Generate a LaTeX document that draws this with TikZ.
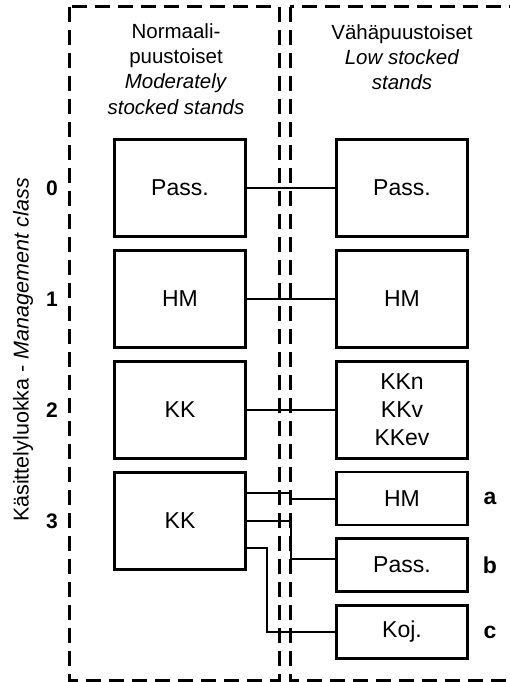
\documentclass[tikz,border=0pt]{standalone}
\usepackage{fontspec}
\setmainfont{Liberation Sans}
\usetikzlibrary{calc}

\begin{document}
\begin{tikzpicture}[x=1pt,y=-1pt,
  group/.style={line width=3pt, dash pattern=on 15pt off 8pt},
  stepbox/.style={draw, line width=2.8pt, minimum width=131pt, inner sep=0pt,
    font=\fontsize{23}{28}\selectfont, align=center},
  tallbox/.style={stepbox, minimum height=97pt},
  lowbox/.style={stepbox, minimum height=53pt},
  link/.style={line width=2pt},
  head/.style={font=\fontsize{20.5}{25.3}\selectfont, align=center},
  rowno/.style={font=\fontsize{21}{25}\selectfont\bfseries},
  subno/.style={font=\fontsize{23}{27}\selectfont\bfseries}
]
\useasboundingbox (0,0) rectangle (510,682);

% the two stand groups
\draw[group] (69,7) rectangle (279,680);
\draw[group] (290,7) rectangle (516,680);

% column headings
\node[head] (hl) at (176,69) {Normaali-\\puustoiset\\\textit{Moderately}\\\textit{stocked stands}};
\node[head] (hr) at (402,57) {Vähäpuustoiset\\\textit{Low stocked}\\\textit{stands}};

% management class axis
\node[rotate=90, font=\fontsize{21.5}{25}\selectfont] (axis) at (23,350)
  {Käsittelyluokka - \textit{Management} \textit{class}};
\node[rowno] (n0) at (52,188) {0};
\node[rowno] (n1) at (52,299) {1};
\node[rowno] (n2) at (52,410) {2};
\node[rowno] (n3) at (52,521) {3};

% moderately stocked stands
\node[tallbox] (l0) at (180,188) {Pass.};
\node[tallbox] (l1) at (180,299) {HM};
\node[tallbox] (l2) at (180,410) {KK};
\node[tallbox] (l3) at (180,521) {KK};

% low stocked stands
\node[tallbox] (r0) at (402,188) {Pass.};
\node[tallbox] (r1) at (402,299) {HM};
\node[tallbox] (r2) at (402,410) {KKn\\KKv\\KKev};
\node[lowbox] (ra) at (402,498.5) {HM};
\node[lowbox] (rb) at (402,565) {Pass.};
\node[lowbox] (rc) at (402,632) {Koj.};

\node[subno] (ta) at (490,498.5) {a};
\node[subno] (tb) at (490,565) {b};
\node[subno] (tc) at (490,632) {c};

% links between classes
\draw[link] (l0.east) -- (r0.west);
\draw[link] (l1.east) -- (r1.west);
\draw[link] (l2.east) -- (r2.west);
\draw[link] ($(l3.east)+(0,-28)$) -| ($(ra.west)+(-44,0)$) -- (ra.west);
\draw[link] (l3.east) -| ($(rb.west)+(-44,-6)$) -- ($(rb.west)+(0,-6)$);
\draw[link] ($(l3.east)+(0,27)$) -| ($(rc.west)+(-68,0)$) -- (rc.west);
\end{tikzpicture}
\end{document}
